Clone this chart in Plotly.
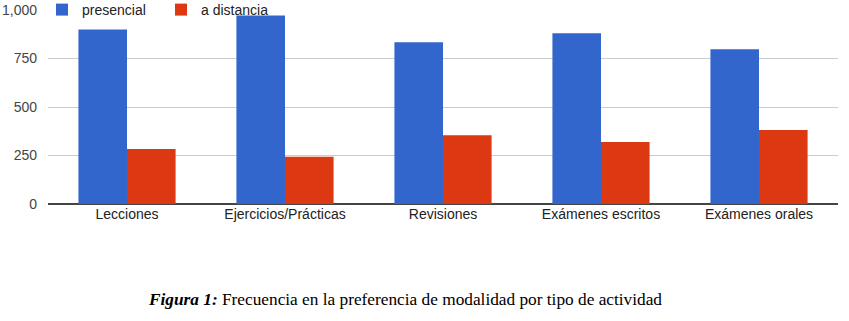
import plotly.graph_objects as go

categories = ["Lecciones", "Ejercicios/Prácticas", "Revisiones", "Exámenes escritos", "Exámenes orales"]
presencial = [900, 972, 834, 880, 798]
a_distancia = [284, 243, 355, 319, 381]
y_ticks = [0, 250, 500, 750, 1000]
y_tick_labels = ["0", "250", "500", "750", "1,000"]

fig = go.Figure()
fig.add_trace(go.Bar(x=categories, y=presencial, name="presencial",
                     marker=dict(color="#3366cc", line=dict(width=0))))
fig.add_trace(go.Bar(x=categories, y=a_distancia, name="a distancia",
                     marker=dict(color="#dc3912", line=dict(width=0))))

fig.update_layout(
    width=849, height=321,
    margin=dict(l=48, r=11, t=10, b=116.7, autoexpand=False),
    paper_bgcolor="white", plot_bgcolor="white",
    barmode="group", bargap=0.385, bargroupgap=0.0,
    font=dict(family="Arial, Liberation Sans, sans-serif", size=14, color="#222"),
    showlegend=True,
    legend=dict(orientation="h", x=-6 / 790, y=1, xanchor="left", yanchor="middle",
                bgcolor="rgba(0,0,0,0)", font=dict(size=14, color="#222"),
                itemwidth=30, tracegroupgap=0, entrywidth=74, entrywidthmode="pixels"),
    xaxis=dict(showgrid=False, showline=False, ticks="", tickfont=dict(size=14, color="#222"),
               zeroline=False, automargin=False),
    yaxis=dict(range=[0, 1000], tickvals=y_ticks, ticktext=y_tick_labels,
               showgrid=True, gridcolor="#cccccc", gridwidth=1,
               zeroline=True, zerolinecolor="#444444", zerolinewidth=1.5,
               showline=False, ticks="", tickfont=dict(size=14, color="#444"),
               ticklabelstandoff=10, automargin=False),
    annotations=[dict(
        text="<b><i>Figura 1:</i></b> Frecuencia en la preferencia de modalidad por tipo de actividad",
        xref="paper", yref="paper", x=(405 - 48) / 790, y=-(300 - 204.3) / 194.4, xanchor="center", yanchor="middle",
        showarrow=False, font=dict(family="Liberation Serif, Times New Roman, serif", size=17.3, color="#000"))],
)

fig.write_html("out.html", config={"displayModeBar": False},
               post_script="document.body.style.margin='0';")
